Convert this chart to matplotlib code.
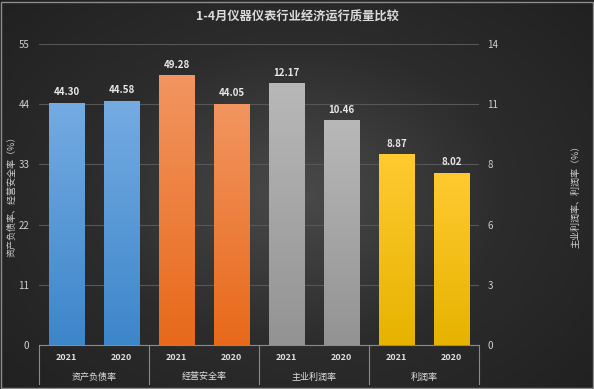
import numpy as np
import matplotlib.pyplot as plt
from matplotlib.colors import LinearSegmentedColormap
from matplotlib.patches import Rectangle
import matplotlib.transforms as mtransforms

plt.rcParams['font.family'] = ['Noto Sans CJK SC', 'DejaVu Sans']

# Data
title = '1-4月仪器仪表行业经济运行质量比较'
categories = ['资产负债率', '经营安全率', '主业利润率', '利润率']
years = ['2021', '2020']
left_values = [44.30, 44.58, 49.28, 44.05]     # left axis (资产负债率, 经营安全率)
right_values = [12.17, 10.46, 8.87, 8.02]      # right axis (主业利润率, 利润率)
left_label = '资产负债率、经营安全率（%）'
right_label = '主业利润率、利润率（%）'

# (top colour, bottom colour) per category
grads = [('#74abe2', '#3d86ca'), ('#f29560', '#e8691a'),
         ('#b8b8b8', '#939393'), ('#ffca30', '#e7b300')]

fig = plt.figure(figsize=(5.94, 3.89), dpi=100)

# background radial gradient
bg = fig.add_axes([0, 0, 1, 1], zorder=-10)
yy, xx = np.mgrid[-1:1:300j, -1:1:400j]
r = np.sqrt(xx**2 + (yy * 0.9)**2)
bg_cmap = LinearSegmentedColormap.from_list('bg', ['#4a4a4a', '#2c2c2c', '#202020'])
bg.imshow(r, cmap=bg_cmap, aspect='auto', extent=[0, 1, 0, 1], vmin=0, vmax=1.4)
bg.axis('off')
# thin light frame round the picture
fig.patches.append(Rectangle((0.5 / 594, 1.5 / 389), 592 / 594, 386 / 389,
                             transform=fig.transFigure, fill=False,
                             edgecolor='#8c8c8c', linewidth=1, zorder=10))

ax = fig.add_axes([39 / 594, 44 / 389, 440 / 594, 301 / 389])
ax.patch.set_alpha(0)
ax2 = ax.twinx()

ax.set_yticks(np.arange(0, 56, 11))
ax2.set_yticks(np.linspace(0, 14, 6))
ax2.set_yticklabels([f'{v:.0f}' for v in np.linspace(0, 14, 6)])

for a in (ax, ax2):
    for s in a.spines.values():
        s.set_visible(False)
    a.tick_params(axis='y', length=0, colors='#d0d0d0', labelsize=7)
ax.tick_params(axis='y', pad=7)
ax2.tick_params(axis='y', pad=6)
ax.tick_params(axis='x', length=0, labelbottom=False)
ax.grid(axis='y', color='#575757', linewidth=0.8)
ax.set_axisbelow(True)

ax.set_ylabel(left_label, color='#d0d0d0', fontsize=6.5)
ax.yaxis.set_label_coords(-22 / 440, 0.5)
ax2.set_ylabel(right_label, color='#d0d0d0', fontsize=6.5)
ax2.yaxis.set_label_coords(1 + 92 / 440, 0.5)


def grad_bar(a, x, h, top, bottom):
    bar = a.bar(x, h, width=0.65, color='none', zorder=3)[0]
    cmap = LinearSegmentedColormap.from_list('g', [bottom, top])
    img = a.imshow(np.linspace(0, 1, 100).reshape(-1, 1), cmap=cmap, origin='lower',
                   aspect='auto', extent=[x - 0.325, x + 0.325, 0, h], zorder=3)
    img.set_clip_path(bar)
    a.text(x, h, f'{h:.2f}', ha='center', va='bottom', color='#e8e8e8',
           fontsize=7, fontweight='bold', zorder=4,
           transform=a.transData + mtransforms.ScaledTranslation(0, 4 / 72, fig.dpi_scale_trans))


xpos = 0
for i in range(2):
    for j in range(2):
        grad_bar(ax, xpos, left_values[i * 2 + j], *grads[i])
        xpos += 1
for i in range(2):
    for j in range(2):
        grad_bar(ax2, xpos, right_values[i * 2 + j], *grads[i + 2])
        xpos += 1
ax.set_xlim(-0.5, 7.5)
ax2.set_xlim(-0.5, 7.5)
ax.set_ylim(0, 55)
ax2.set_ylim(0, 14)

# hierarchical category axis
trans = mtransforms.blended_transform_factory(ax.transData, ax.transAxes)
ax.plot([-0.5, 7.5], [0, 0], color='#8a8a8a', lw=0.8, transform=trans, clip_on=False)
for b in [-0.5, 1.5, 3.5, 5.5, 7.5]:
    ax.plot([b, b], [0, -39 / 301], color='#8a8a8a', lw=0.8, transform=trans, clip_on=False)
for k in range(8):
    ax.text(k, -13 / 301, years[k % 2], ha='center', va='center', color='#e0e0e0',
            fontsize=6.5, fontweight='bold', transform=trans)
for i, c in enumerate(categories):
    ax.text(2 * i + 0.5, -32 / 301, c, ha='center', va='center', color='#e0e0e0',
            fontsize=6.5, transform=trans)

fig.text(0.5, 1 - 17 / 389, title, ha='center', va='center', color='#dcdcdc',
         fontsize=8.8, fontweight='bold')

fig.savefig('out.png', dpi=100)
